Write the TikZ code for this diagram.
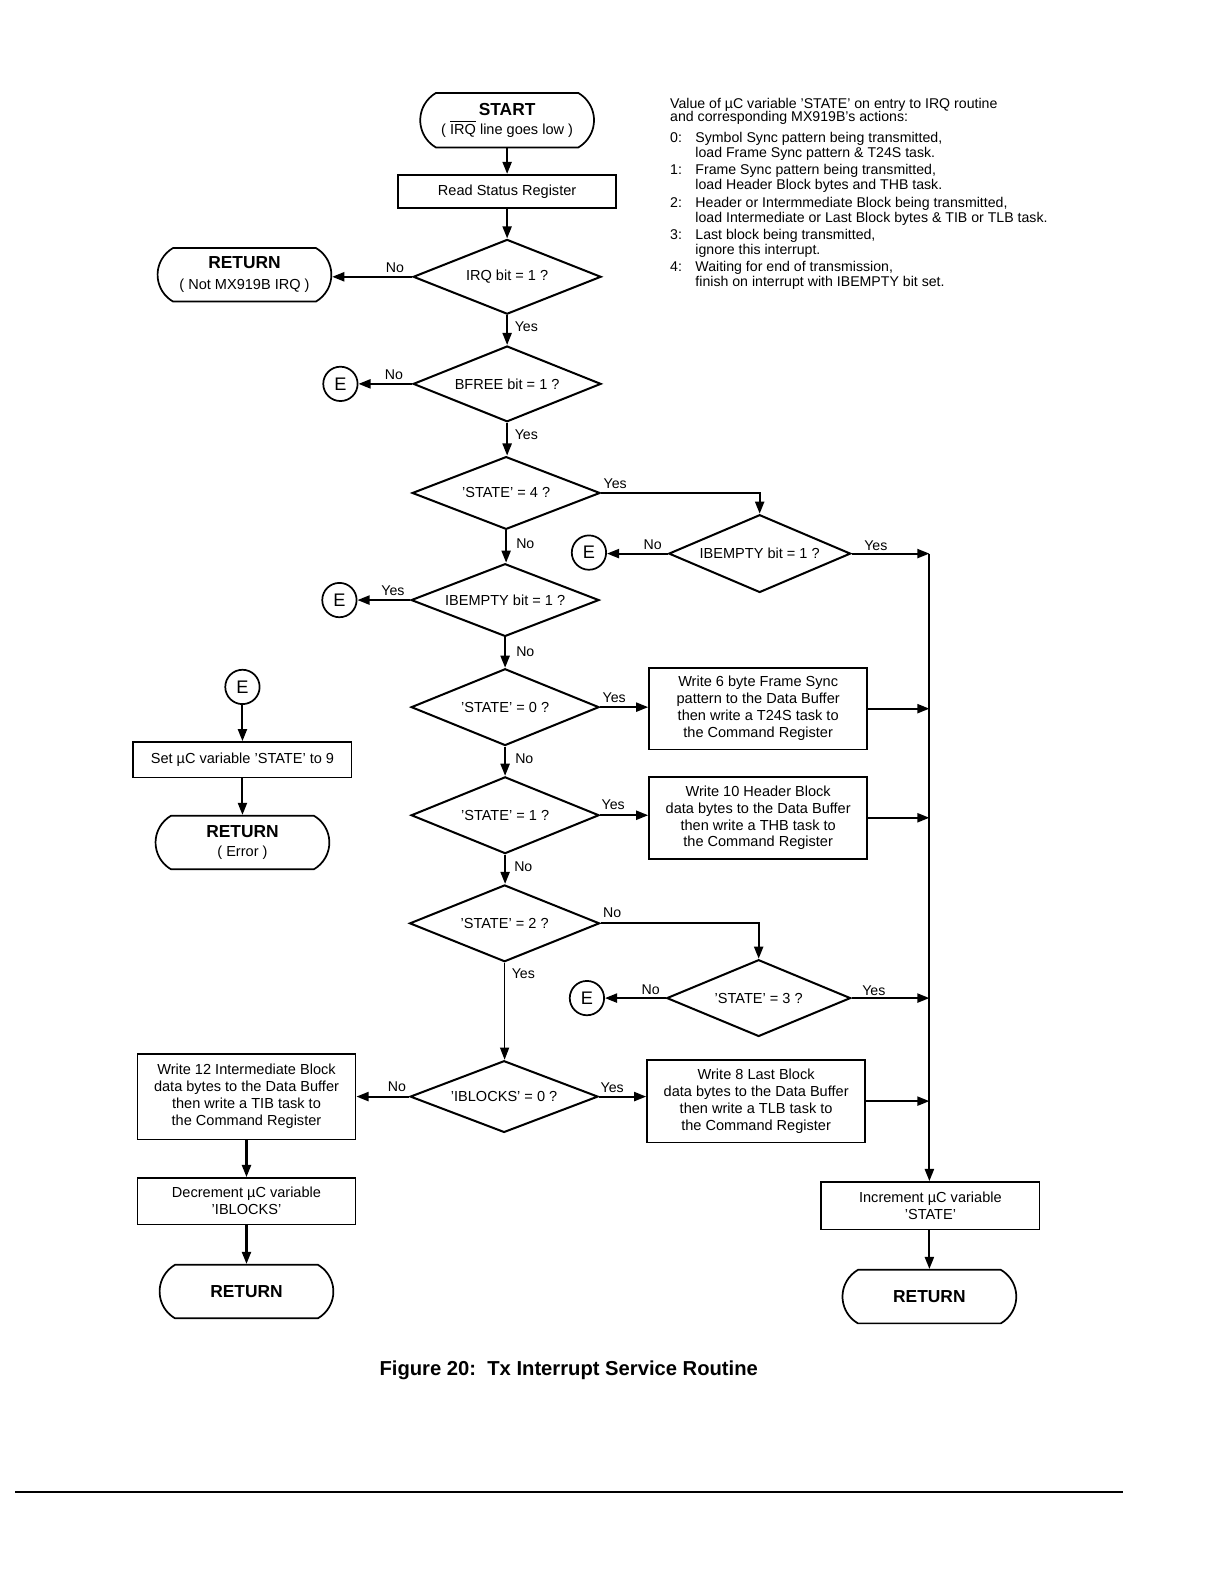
\documentclass[tikz,border=0pt]{standalone}
\usepackage{fontspec}
\setmainfont{Liberation Sans}
\usetikzlibrary{shapes.geometric,shapes.misc,arrows.meta}
\newcommand{\ttlf}{\fontsize{8.6}{10}\selectfont\bfseries}
\begin{document}
\begin{tikzpicture}[x=0.5pt,y=-0.5pt,
  every node/.style={font=\fontsize{7.2}{8.4}\selectfont, inner sep=0pt},
  dia/.style={draw, diamond, line width=1pt, aspect=2.5, minimum width=93pt, minimum height=37pt},
  box/.style={draw, rectangle, line width=0.85pt, align=center, minimum width=108pt},
  term/.style={draw, rounded rectangle, rounded rectangle arc length=120, line width=0.85pt, minimum width=86pt, minimum height=26.5pt, align=center},
  conn/.style={draw, circle, line width=0.85pt, minimum size=17pt, font=\fontsize{9}{10}\selectfont},
  arr/.style={line width=1pt, -{Triangle[length=6pt,width=4.5pt]}},
  lbl/.style={font=\fontsize{7}{8}\selectfont},
  note/.style={anchor=base west, font=\fontsize{7}{8}\selectfont},
]
\useasboundingbox (0,0) rectangle (1212,1568);

% notes
\node[note] (n1) at (663,107.5) {Value of µC variable 'STATE' on entry to IRQ routine};
\node[note] (n2) at (663,120) {and corresponding MX919B's actions:};
\node[note] (n3a) at (663,141) {0:};
\node[note] (n3) at (688,141) {Symbol Sync pattern being transmitted,};
\node[note] (n4) at (688,156) {load Frame Sync pattern \& T24S task.};
\node[note] (n5a) at (663,173) {1:};
\node[note] (n5) at (688,173) {Frame Sync pattern being transmitted,};
\node[note] (n6) at (688,188) {load Header Block bytes and THB task.};
\node[note] (n7a) at (663,205) {2:};
\node[note] (n7) at (688,205) {Header or Intermmediate Block being transmitted,};
\node[note] (n8) at (688,220) {load Intermediate or Last Block bytes \& TIB or TLB task.};
\node[note] (n9a) at (663,237) {3:};
\node[note] (n9) at (688,237) {Last block being transmitted,};
\node[note] (n10) at (688,252) {ignore this interrupt.};
\node[note] (n11a) at (663,269) {4:};
\node[note] (n11) at (688,269) {Waiting for end of transmission,};
\node[note] (n12) at (688,284) {finish on interrupt with IBEMPTY bit set.};

% main column
\node[term, minimum height=27pt] (start) at (502,119) {{\ttlf START}\\[1pt]( \(\overline{\mbox{IRQ}}\) line goes low )};
\node[box, minimum height=16.5pt] (read) at (502,189.5) {Read Status Register};
\node[dia] (irq) at (502,274) {IRQ bit = 1 ?};
\node[term] (ret1) at (242,272) {{\ttlf RETURN}\\[2pt]( Not MX919B IRQ )};
\node[dia, minimum height=37.5pt] (bfree) at (502,380) {BFREE bit = 1 ?};
\node[conn] (e1) at (337,380) {E};
\node[dia, minimum height=36pt] (st4) at (501,488) {'STATE' = 4 ?};
\node[dia, minimum width=90pt, minimum height=38.5pt] (ibe2) at (752,548) {IBEMPTY bit = 1 ?};
\node[conn] (e2) at (583,547) {E};
\node[dia, minimum height=36pt] (ibe1) at (500,594) {IBEMPTY bit = 1 ?};
\node[conn] (e3) at (336,594) {E};
\node[dia, minimum height=38pt] (st0) at (500,700) {'STATE' = 0 ?};
\node[box, minimum height=40.5pt] (b0) at (750.5,701.5) {Write 6 byte Frame Sync\\pattern to the Data Buffer\\then write a T24S task to\\the Command Register};
\node[dia, minimum height=38pt] (st1) at (500,807) {'STATE' = 1 ?};
\node[box, minimum height=40.5pt] (b1) at (750.5,809.5) {Write 10 Header Block\\data bytes to the Data Buffer\\then write a THB task to\\the Command Register};
\node[dia, minimum width=94pt, minimum height=38pt] (st2) at (499.5,914) {'STATE' = 2 ?};
\node[dia, minimum width=91pt, minimum height=38pt] (st3) at (751,988) {'STATE' = 3 ?};
\node[conn] (e5) at (581,988) {E};
\node[dia, minimum height=35.5pt] (iblk) at (499,1085.5) {'IBLOCKS' = 0 ?};
\node[box, minimum height=42.5pt] (b12) at (244,1085.5) {Write 12 Intermediate Block\\data bytes to the Data Buffer\\then write a TIB task to\\the Command Register};
\node[box, minimum height=41pt] (b8) at (748.5,1090) {Write 8 Last Block\\data bytes to the Data Buffer\\then write a TLB task to\\the Command Register};
\node[box, minimum height=23pt] (dec) at (244,1189) {Decrement µC variable\\'IBLOCKS'};
\node[term] (ret3) at (244,1278.5) {\ttlf RETURN};
\node[box, minimum height=23.5pt] (inc) at (921,1193.5) {Increment µC variable\\'STATE'};
\node[term] (ret4) at (920,1283.5) {\ttlf RETURN};

% error column
\node[conn] (e4) at (240,680) {E};
\node[box, minimum height=17.5pt] (set) at (240,752) {Set µC variable 'STATE' to 9};
\node[term] (ret2) at (240,834) {{\ttlf RETURN}\\[1pt]( Error )};

% connectors
\draw[arr] (start.south) -- (start.south |- read.north);
\draw[arr] (read.south) -- (read.south |- irq.north);
\draw[arr] (irq.west) -- (irq.west -| ret1.east);
\draw[arr] (irq.south) -- (bfree.north);
\draw[arr] (bfree.west) -- (e1.east);
\draw[arr] (bfree.south) -- (bfree.south |- st4.north);
\draw[arr] (st4.east) -| (ibe2.north);
\draw[arr] (ibe2.west) -- (ibe2.west -| e2.east);
\draw[arr] (st4.south) -- (st4.south |- ibe1.north);
\draw[arr] (ibe1.west) -- (e3.east);
\draw[arr] (ibe1.south) -- (st0.north);
\draw[arr] (st0.east) -- (st0.east -| b0.west);
\draw[arr] (st0.south) -- (st1.north);
\draw[arr] (st1.east) -- (st1.east -| b1.west);
\draw[arr] (st1.south) -- (st1.south |- st2.north);
\draw[arr] (st2.east) -| (st3.north);
\draw[arr] (st3.west) -- (e5.east);
\draw[arr, line width=0.5pt] (st2.south) -- (st2.south |- iblk.north);
\draw[arr] (iblk.west) -- (iblk.west -| b12.east);
\draw[arr] (iblk.east) -- (iblk.east -| b8.west);
\draw[arr] (b12.south) -- (b12.south |- dec.north);
\draw[arr] (dec.south) -- (ret3.north);
\draw[arr] (e4.south) -- (set.north);
\draw[arr] (set.south) -- (ret2.north);

\coordinate (vtop) at (920,548);
\draw[arr] (vtop) -- (vtop |- inc.north);
\draw[arr] (inc.south -| vtop) -- (ret4.north);
\draw[arr] (ibe2.east) -- (vtop);
\draw[arr] (b0.east) -- (b0.east -| vtop);
\draw[arr] (b1.east) -- (b1.east -| vtop);
\draw[arr] (st3.east) -- (st3.east -| vtop);
\draw[arr] (b8.east) -- (b8.east -| vtop);

% labels
\node[lbl] (l1) at (391,265) {No};
\node[lbl] (l2) at (521,323) {Yes};
\node[lbl] (l3) at (390,371) {No};
\node[lbl] (l4) at (521,430) {Yes};
\node[lbl] (l5) at (609,479) {Yes};
\node[lbl] (l6) at (520,538) {No};
\node[lbl] (l7) at (646,539) {No};
\node[lbl] (l8) at (867,540) {Yes};
\node[lbl] (l9) at (389,585) {Yes};
\node[lbl] (l10) at (520,645) {No};
\node[lbl] (l11) at (608,691) {Yes};
\node[lbl] (l12) at (519,751) {No};
\node[lbl] (l13) at (607,797) {Yes};
\node[lbl] (l14) at (518,858) {No};
\node[lbl] (l15) at (606,903) {No};
\node[lbl] (l16) at (518,964) {Yes};
\node[lbl] (l17) at (644,980) {No};
\node[lbl] (l18) at (865,981) {Yes};
\node[lbl] (l19) at (393,1076) {No};
\node[lbl] (l20) at (606,1077) {Yes};

% caption and rule
\node[font=\fontsize{10}{12}\selectfont\bfseries] (cap) at (563,1356) {Figure 20:\ \ Tx Interrupt Service Routine};
\draw[line width=1pt] (15,1477) -- (1112,1477);
\end{tikzpicture}
\end{document}
